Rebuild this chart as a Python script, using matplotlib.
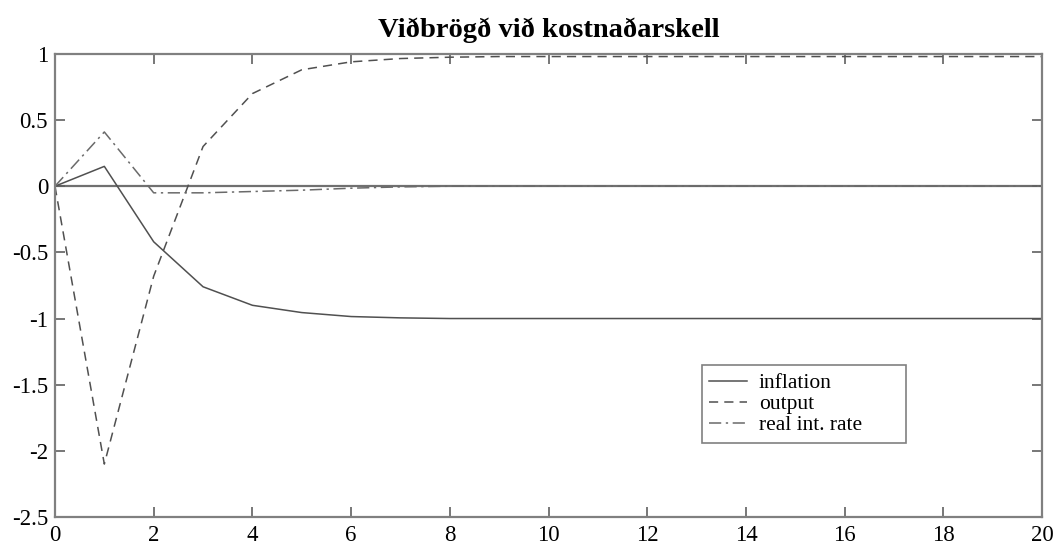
import numpy as np
import matplotlib.pyplot as plt

plt.rcParams['font.family'] = ['Liberation Serif', 'DejaVu Serif']

#------------------------------------------------------------------------------
# impulse responses to a cost shock
#------------------------------------------------------------------------------

periods = np.arange(0, 21)

inflation = [0.0, 0.15, -0.42, -0.76, -0.90, -0.955, -0.985, -0.995, -1.0, -1.0,
             -1.0, -1.0, -1.0, -1.0, -1.0, -1.0, -1.0, -1.0, -1.0, -1.0, -1.0]

output = [0.0, -2.10, -0.68, 0.30, 0.70, 0.88, 0.94, 0.965, 0.975, 0.98,
          0.98, 0.98, 0.98, 0.98, 0.98, 0.98, 0.98, 0.98, 0.98, 0.98, 0.98]

real_rate = [0.0, 0.41, -0.05, -0.05, -0.04, -0.03, -0.015, -0.005, 0.0, 0.0,
             0.0, 0.0, 0.0, 0.0, 0.0, 0.0, 0.0, 0.0, 0.0, 0.0, 0.0]

labels = ['inflation', 'output', 'real int. rate']
title = 'Viðbrögð við kostnaðarskell'

xticks = np.arange(0, 21, 2)
yticks = [-2.5, -2, -1.5, -1, -0.5, 0, 0.5, 1]
yticklabels = ['-2.5', '-2', '-1.5', '-1', '-0.5', '0', '0.5', '1']

#------------------------------------------------------------------------------

fig = plt.figure(figsize=(10.57, 5.5), dpi=100)
ax = fig.add_axes([0.052, 0.06, 0.934, 0.842])

lc = '#505050'
ax.axhline(0, color='#707070', linewidth=1.6, zorder=1)
ax.plot(periods, inflation, color=lc, linestyle='-', linewidth=1.1, label=labels[0])
ax.plot(periods, output, color=lc, linestyle=(0, (6, 4)), linewidth=1.1, label=labels[1])
ax.plot(periods, real_rate, color='#6a6a6a', linestyle=(0, (8, 3, 1.5, 3)), linewidth=1.1, label=labels[2])

ax.set_xlim(0, 20)
ax.set_ylim(-2.5, 1)
ax.set_xticks(xticks)
ax.set_yticks(yticks)
ax.set_yticklabels(yticklabels)
ax.tick_params(direction='in', top=True, right=True, length=7, width=1.2,
               color='#606060', labelsize=16.5)
ax.tick_params(axis='x', pad=6)
ax.tick_params(axis='y', pad=5)
for s in ax.spines.values():
    s.set_color('#808080')
    s.set_linewidth(1.6)

ax.set_title(title, fontsize=20.5, fontweight='bold', pad=12)

leg = ax.legend(loc='lower left', bbox_to_anchor=(0.655, 0.16, 0.207, 0.18), mode='expand',
                borderaxespad=0, fontsize=15.5, frameon=True, fancybox=False,
                handlelength=1.75, handletextpad=0.55, borderpad=0.35, labelspacing=0.05)
leg.get_frame().set_edgecolor('#606060')
leg.get_frame().set_linewidth(1.2)

plt.savefig('out.png', dpi=100)
